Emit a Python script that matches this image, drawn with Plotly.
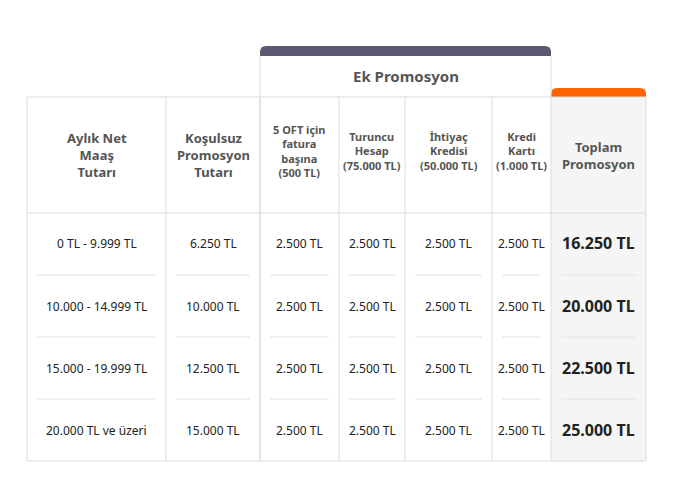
import plotly.graph_objects as go

salary = ["0 TL - 9.999 TL", "10.000 - 14.999 TL", "15.000 - 19.999 TL", "20.000 TL ve üzeri"]
base = ["6.250 TL", "10.000 TL", "12.500 TL", "15.000 TL"]
oft = ["2.500 TL"] * 4
turuncu = ["2.500 TL"] * 4
ihtiyac = ["2.500 TL"] * 4
kredi = ["2.500 TL"] * 4
total = ["16.250 TL", "20.000 TL", "22.500 TL", "25.000 TL"]
headers = ["Aylık Net<br>Maaş<br>Tutarı", "Koşulsuz<br>Promosyon<br>Tutarı",
           "5 OFT için<br>fatura<br>başına<br>(500 TL)", "Turuncu<br>Hesap<br>(75.000 TL)",
           "İhtiyaç<br>Kredisi<br>(50.000 TL)", "Kredi<br>Kartı<br>(1.000 TL)",
           "Toplam<br>Promosyon"]
group_title = "Ek Promosyon"

xs = [27, 166, 260, 339, 405, 492, 551, 646]
row_y = [243, 306, 368, 430]
seps = [275, 337, 399]
top, hb, bot = 97, 213, 461
line = "#dcdcdc"
font = "Noto Sans"

fig = go.Figure()
shapes = []
shapes.append(dict(type="rect", x0=xs[6], x1=xs[7], y0=top, y1=bot, fillcolor="#f5f5f5", line_width=0, layer="below"))
shapes.append(dict(type="path", path=f"M{xs[2]},56 L{xs[2]},52 Q{xs[2]},46 266,46 L545,46 Q{xs[6]},46 {xs[6]},52 L{xs[6]},56 Z",
                   fillcolor="#5b5a72", line_width=0))
shapes.append(dict(type="path", path=f"M{xs[6]},97 L{xs[6]},94 Q{xs[6]},88 557,88 L640,88 Q{xs[7]},88 {xs[7]},94 L{xs[7]},97 Z",
                   fillcolor="#ff6200", line_width=0))
def L(x0, y0, x1, y1, c=line):
    shapes.append(dict(type="line", x0=x0, y0=y0, x1=x1, y1=y1, line=dict(color=c, width=1)))
L(xs[2], 56, xs[2], bot); L(xs[6], 56, xs[6], bot)
L(xs[0], top, xs[7], top); L(xs[0], hb, xs[7], hb); L(xs[0], bot, xs[7], bot)
L(xs[0], top, xs[0], bot); L(xs[7], top, xs[7], bot)
for x in xs[1:6]:
    L(x, top, x, bot)
for i in range(7):
    for y in seps:
        L(xs[i] + 10, y, xs[i + 1] - 10, y, "#e4e4e4")

ann = [dict(x=(xs[2] + xs[6]) / 2, y=76, text=group_title, showarrow=False,
            font=dict(family=font, size=15, color="#555555", weight="bold"))]
for i, h in enumerate(headers):
    big = i in (0, 1, 6)
    ann.append(dict(x=(xs[i] + xs[i + 1]) / 2, y=(top + hb) / 2 + (-4 if 2 <= i < 6 else 0), text=h, showarrow=False,
                    font=dict(family=font, size=13 if big else 11, color="#555555", weight="bold"),
                    yanchor="middle"))
cols = [salary, base, oft, turuncu, ihtiyac, kredi, total]
for i, col in enumerate(cols):
    for j, v in enumerate(col):
        ann.append(dict(x=(xs[i] + xs[i + 1]) / 2, y=row_y[j], text=v, showarrow=False,
                        font=dict(family=font, size=16 if i == 6 else 12, color="#222222",
                                  weight="bold" if i == 6 else "normal")))

fig.update_layout(width=686, height=482, margin=dict(l=0, r=0, t=0, b=0),
                  paper_bgcolor="white", plot_bgcolor="white", shapes=shapes, annotations=ann,
                  xaxis=dict(range=[8, 694], visible=False, fixedrange=True),
                  yaxis=dict(range=[490, 8], visible=False, fixedrange=True), showlegend=False)
fig.write_html("out.html")
